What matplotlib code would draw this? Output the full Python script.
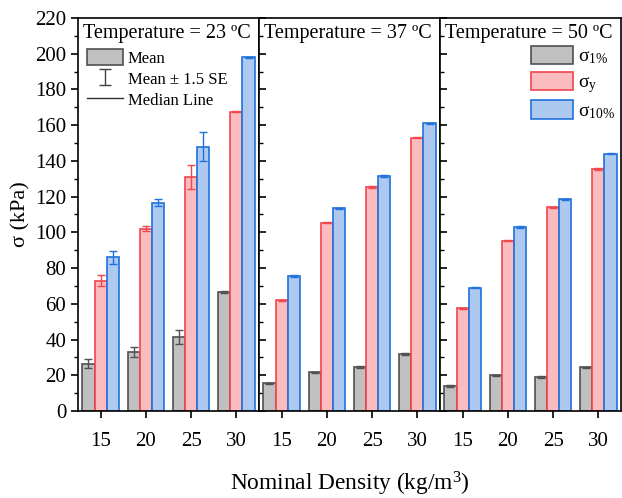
import matplotlib.pyplot as plt
import numpy as np

plt.rcParams['font.family'] = ['Liberation Serif', 'DejaVu Serif']
plt.rcParams['mathtext.fontset'] = 'custom'
plt.rcParams['mathtext.rm'] = 'Liberation Serif'
plt.rcParams['mathtext.it'] = 'Liberation Serif:italic'

densities = ['15', '20', '25', '30']
temperatures = ['23', '37', '50']

# mean stress values (kPa) per temperature
s1_23 = [26.5, 33, 41.5, 66.5]
sy_23 = [73, 102, 131, 167.5]
s10_23 = [86, 116.5, 148, 198]
s1_37 = [15.5, 21.7, 24.7, 32]
sy_37 = [62, 105.5, 125.5, 153]
s10_37 = [75.5, 113.5, 131.5, 161]
s1_50 = [14, 20, 19, 24.5]
sy_50 = [57.5, 95.3, 114, 135.5]
s10_50 = [69, 103, 118.5, 144]

# half-width of the mean +/- 1.5 SE bars
e1_23 = [2.5, 3, 4, 0.4]
ey_23 = [3.3, 1.5, 6.5, 0.4]
e10_23 = [3.5, 2, 8, 0.4]
e1_37 = [0.4, 0.4, 0.4, 0.4]
ey_37 = [0.4, 0.4, 0.4, 0.4]
e10_37 = [0.4, 0.4, 0.4, 0.4]
e1_50 = [0.4, 0.4, 0.4, 0.4]
ey_50 = [0.4, 0.4, 0.4, 0.4]
e10_50 = [0.4, 0.4, 0.4, 0.4]

panels = [
    (s1_23, sy_23, s10_23, e1_23, ey_23, e10_23),
    (s1_37, sy_37, s10_37, e1_37, ey_37, e10_37),
    (s1_50, sy_50, s10_50, e1_50, ey_50, e10_50),
]

fills = ['#c0c0c0', '#fbbcbf', '#adc9f0']
edges = ['#505050', '#f0464c', '#2071dc']
series_labels = ['σ$_{\\mathrm{1\\%}}$', 'σ$_{\\mathrm{y}}$', 'σ$_{\\mathrm{10\\%}}$']

fig = plt.figure(figsize=(6.22, 4.98), dpi=100)
lefts = [78 / 622, 259 / 622, 440 / 622]
w = 181 / 622
bottom = 1 - 411 / 498
h = (411 - 18) / 498

x = np.arange(len(densities))
bw = 0.27
axes = []
for i, (vals, temp) in enumerate(zip(panels, temperatures)):
    ax = fig.add_axes([lefts[i], bottom, w, h])
    axes.append(ax)
    means = vals[:3]
    errs = vals[3:]
    for k in range(3):
        ax.bar(x + (k - 1) * bw, means[k], bw, color=fills[k], edgecolor=edges[k],
               linewidth=1.2, label=series_labels[k], zorder=2)
        ax.errorbar(x + (k - 1) * bw, means[k], yerr=errs[k], fmt='none', ecolor=edges[k],
                    elinewidth=1.0, capsize=3, capthick=1.0, zorder=3)
    ax.set_xlim(-0.5, 3.5)
    ax.set_ylim(0, 220)
    ax.set_xticks(x)
    ax.set_xticklabels(densities, fontsize=15)
    ax.set_yticks(np.arange(0, 221, 20))
    ax.set_yticks(np.arange(0, 221, 10), minor=True)
    for s in ax.spines.values():
        s.set_linewidth(1.2)
    ax.tick_params(axis='x', direction='out', length=5, width=1.2, pad=10)
    if i == 0:
        ax.tick_params(axis='y', which='major', direction='out', length=5, width=1.2, labelsize=15)
        ax.tick_params(axis='y', which='minor', direction='out', length=3, width=1.0)
        ax.set_ylabel('σ (kPa)', fontsize=16, labelpad=3)
    else:
        ax.tick_params(axis='y', which='major', direction='in', length=5, width=1.2, labelleft=False)
        ax.tick_params(axis='y', which='minor', direction='in', length=3, width=1.0)
    ax.text(0.03, 0.985, 'Temperature = %s ºC' % temp, transform=ax.transAxes,
            ha='left', va='top', fontsize=14.5, zorder=5)

    if i == 0:
        eb = ax.errorbar([np.nan], [np.nan], yerr=[1], fmt='none', ecolor='#404040',
                         elinewidth=1.0, capsize=4, capthick=1.0)
        med, = ax.plot([], [], color='#303030', linewidth=1.0)
        mean_patch = plt.Rectangle((0, 0), 1, 1, facecolor='#c0c0c0', edgecolor='#505050', linewidth=1.2)
        ax.legend([mean_patch, eb, med], ['Mean', 'Mean ± 1.5 SE', 'Median Line'],
                  loc='upper left', bbox_to_anchor=(0.05, 0.921), frameon=False, fontsize=12,
                  handlelength=2.15, handleheight=1.08, handletextpad=0.3, labelspacing=0.22,
                  borderaxespad=0, borderpad=0)
    if i == 2:
        ax.legend(loc='upper left', bbox_to_anchor=(0.503, 0.929), frameon=False, fontsize=14,
                  handlelength=2.15, handleheight=1.05, handletextpad=0.25, labelspacing=0.28,
                  borderaxespad=0, borderpad=0)

fig.text(lefts[1] + w / 2, 0.0, 'Nominal Density (kg/m$^3$)', ha='center', va='bottom', fontsize=16.8)

plt.savefig('out.png', dpi=100)
